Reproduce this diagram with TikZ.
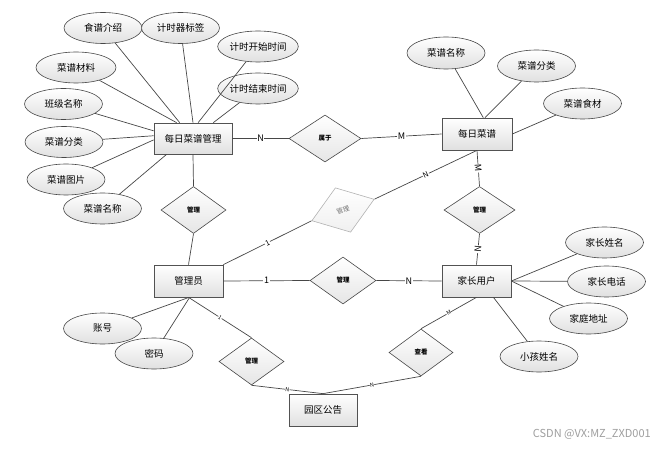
\documentclass[tikz,border=0pt]{standalone}
\usepackage{fontspec}
\setmainfont{Noto Sans CJK SC}
\usetikzlibrary{shapes.geometric}
\tikzset{
  ln/.style={draw=black!72, line width=0.7pt},
  ent/.style={rectangle, draw=black!68, line width=0.7pt, top color=white, bottom color=black!12,
     minimum width=70pt, minimum height=32pt, inner sep=0pt, font=\fontsize{9.5}{11}\selectfont},
  attr/.style={ellipse, draw=black!72, line width=0.6pt, top color=white, bottom color=black!12,
     minimum width=78pt, minimum height=31pt, inner sep=0pt, font=\fontsize{9.5}{11}\selectfont},
  rel/.style={diamond, draw=black!72, line width=0.6pt, top color=white, bottom color=black!10,
     minimum width=66pt, minimum height=47pt, inner sep=0pt, font=\fontsize{6.5}{7}\selectfont\bfseries},
  lbl/.style={fill=white, inner sep=0.6pt, font=\fontsize{9}{10}\selectfont},
  slbl/.style={fill=white, inner sep=0.3pt, sloped, font=\fontsize{5.5}{6}\selectfont},
}
\begin{document}
\begin{tikzpicture}[x=1pt, y=-1pt]
\useasboundingbox (0,0) rectangle (659,449);
% entities
\node[ent, minimum width=78pt, minimum height=31pt] (m1) at (193,138.5) {每日菜谱管理};
\node[ent] (d1) at (477,134) {每日菜谱};
\node[ent, minimum width=69pt] (gly) at (188.5,281) {管理员};
\node[ent, minimum width=69pt] (jz) at (476.5,281) {家长用户};
\node[ent, minimum width=68pt] (gg) at (323,410) {园区公告};
% relations
\node[rel, minimum width=72pt] (shu) at (325,138.5) {属于};
\node[rel, minimum width=65pt] (r1) at (193.5,210) {管理};
\node[rel, minimum width=71pt] (r2) at (479.5,210) {管理};
\node[rel] (r3) at (343,280.5) {管理};
\node[rel, minimum width=65pt] (r4) at (251.5,361.5) {管理};
\node[rel, minimum width=64pt] (ck) at (421,352.5) {查看};
\node[rel, draw=black!30, bottom color=black!6, text=black!55, font=\fontsize{6.5}{7}\selectfont,
      rotate=19] (gr) at (343,210) {管理};
% attributes of 每日菜谱管理
\node[attr] (a1) at (103,28) {食谱介绍};
\node[attr] (a2) at (180.5,28) {计时器标签};
\node[attr] (a3) at (258,46.5) {计时开始时间};
\node[attr] (a4) at (258,88.5) {计时结束时间};
\node[attr, minimum width=80pt] (a5) at (76,67.5) {菜谱材料};
\node[attr] (a6) at (63.5,104) {班级名称};
\node[attr] (a7) at (64,142) {菜谱分类};
\node[attr] (a8) at (66,179.5) {菜谱图片};
\node[attr] (a9) at (102.5,208.5) {菜谱名称};
% attributes of 每日菜谱
\node[attr, minimum height=32pt] (b1) at (446,53) {菜谱名称};
\node[attr, minimum height=32pt] (b2) at (536.5,66) {菜谱分类};
\node[attr] (b3) at (582.5,103.5) {菜谱食材};
% attributes of 管理员
\node[attr] (c1) at (102.5,328.5) {账号};
\node[attr] (c2) at (154,353.5) {密码};
% attributes of 家长用户
\node[attr] (e1) at (604.5,242.5) {家长姓名};
\node[attr] (e2) at (606.5,281.5) {家长电话};
\node[attr] (e3) at (588.5,318.5) {家庭地址};
\node[attr] (e4) at (539,356.5) {小孩姓名};
% watermark
\node[anchor=east, text=black!38, inner sep=0pt, font=\fontsize{11}{12}\selectfont] (wm) at (651,434.5) {CSDN @VX:MZ\_ZXD001};

% attribute lines
\draw[ln] (a1) -- (m1.130);
\draw[ln] (a2) -- (m1.90);
\draw[ln] (a3) -- (m1.72);
\draw[ln] (a4) -- (m1.38);
\draw[ln] (a5) -- (m1.136);
\draw[ln] (a6) -- (m1.169);
\draw[ln] (a7) -- (m1.176);
\draw[ln] (a8) -- (m1.182);
\draw[ln] (a9) -- (m1.211);
\draw[ln] (b1) -- (d1.69);
\draw[ln] (b2) -- (d1.64);
\draw[ln] (b3) -- (d1.east);
\draw[ln] (c1) -- (gly.272);
\draw[ln] (c2) -- (gly.274);
\draw[ln] (e1) -- (jz.east);
\draw[ln] (e2) -- (jz.east);
\draw[ln] (e3) -- (jz.east);
\draw[ln] (e4) -- (jz.316);
% relation lines
\draw[ln] (m1.east) -- node[lbl]{N} (shu.west);
\draw[ln] (shu.east) -- node[lbl]{M} (d1.west);
\draw[ln] (m1.south) -- (r1.north);
\draw[ln] (r1.south) -- (gly.north);
\draw[ln] (d1.south) -- node[lbl, sloped]{M} (r2.north);
\draw[ln] (r2.south) -- node[lbl, sloped]{N} (jz.north);
\draw[ln] (gly.east) -- node[lbl]{1} (r3.west);
\draw[ln] (r3.east) -- node[lbl]{N} (jz.west);
\draw[ln] (gly.north east) -- node[lbl, sloped, font=\fontsize{7.5}{8}\selectfont]{1} (gr.west);
\draw[ln] (gr.east) -- node[lbl, sloped, font=\fontsize{7.5}{8}\selectfont]{N} (d1.south);
\draw[ln] (gly.south) -- node[slbl]{1} (r4.north);
\draw[ln] (r4.south) -- node[slbl]{N} (gg.north);
\draw[ln] (jz.south) -- node[slbl]{M} (ck.north);
\draw[ln] (ck.south) -- node[slbl]{N} (gg.north);
\end{tikzpicture}
\end{document}
